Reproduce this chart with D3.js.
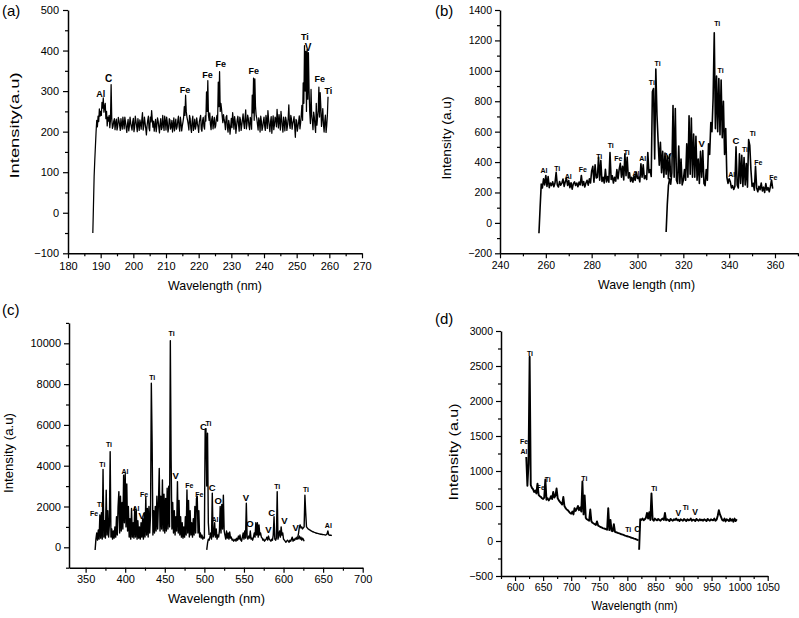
<!DOCTYPE html>
<html><head><meta charset="utf-8">
<script src="https://cdn.jsdelivr.net/npm/d3@7"></script>
<style>
body{margin:0;background:#fff;}
svg{display:block;font-family:"Liberation Sans",Arial,sans-serif;}
</style></head><body>
<svg id="chart" width="799" height="618"></svg>
<script>
// ---------- Panel (a) ----------
const aStart = 187.6, aStep = 0.2;
const aIntensity = [-50, 20, 90, 130, 165, 200, 228, 212, 238, 225, 256, 238, 250, 240, 272, 258, 283, 248, 262, 270,
 232, 250, 214, 236, 226, 240, 210, 228, 316, 232, 208, 214, 226, 232, 205, 222, 231, 204, 212, 235,
 228, 216, 203, 232, 219, 206, 236, 222, 207, 236, 224, 210, 198, 218, 230, 202, 214, 236, 221, 212,
 204, 224, 233, 200, 211, 238, 226, 214, 200, 232, 218, 203, 229, 221, 206, 230, 247, 204, 213, 236,
 222, 208, 192, 214, 228, 238, 209, 202, 236, 224, 252, 230, 211, 226, 201, 217, 230, 200, 215, 234,
 226, 211, 197, 220, 232, 205, 210, 240, 219, 203, 238, 226, 204, 236, 223, 199, 208, 232, 229, 206,
 213, 228, 199, 216, 234, 202, 218, 231, 206, 212, 227, 238, 212, 201, 236, 222, 202, 214, 224, 236,
 262, 240, 290, 250, 236, 228, 218, 204, 240, 232, 208, 198, 226, 238, 203, 215, 231, 206, 215, 234,
 221, 212, 198, 224, 233, 240, 206, 201, 228, 235, 213, 206, 239, 226, 298, 250, 326, 240, 228, 246,
 218, 205, 231, 238, 207, 222, 235, 209, 214, 231, 240, 226, 322, 262, 348, 250, 270, 256, 238, 222,
 242, 230, 221, 205, 236, 240, 210, 199, 228, 217, 194, 212, 233, 210, 247, 228, 206, 237, 225, 196,
 213, 229, 238, 218, 201, 236, 229, 203, 216, 229, 244, 221, 208, 234, 254, 207, 219, 241, 232, 214,
 205, 235, 227, 206, 290, 246, 332, 228, 330, 262, 240, 232, 218, 204, 234, 226, 199, 238, 226, 203,
 211, 225, 236, 214, 203, 240, 230, 208, 252, 231, 214, 200, 224, 237, 196, 220, 239, 205, 217, 236,
 231, 212, 255, 228, 209, 242, 226, 204, 250, 232, 212, 199, 236, 222, 202, 236, 228, 203, 215, 233,
 266, 218, 208, 240, 232, 206, 219, 227, 237, 212, 186, 230, 226, 201, 213, 224, 239, 207, 221, 240,
 265, 228, 320, 270, 412, 300, 398, 250, 402, 280, 395, 300, 248, 220, 304, 240, 226, 205, 248, 236,
 214, 198, 270, 216, 235, 252, 310, 236, 296, 262, 213, 232, 257, 218, 199, 226, 241, 198, 215, 240,
 286];
const aLabels = [[190.0,293,"Al"],[192.4,332,"C"],[215.8,304,"Fe"],[222.7,341,"Fe"],[226.8,367,"Fe"],
 [236.9,349,"Fe"],[252.5,435,"Ti"],[253.5,407,"V"],[257.1,331,"Fe"],[259.7,300,"Ti"]];

// ---------- Panel (b) ----------
const bStart1 = 257.0, bStart2 = 312.5, bStep = 0.5;
const bIntensity1 = [-68, 100, 255, 230, 290, 250, 312, 240, 305, 232,
 262, 245, 270, 238, 262, 332, 250, 236, 272, 248,
 262, 288, 240, 272, 294, 246, 278, 232, 264, 222,
 258, 270, 246, 262, 238, 268, 250, 312, 246, 272,
 236, 262, 280, 248, 290, 262, 342, 372, 268, 382,
 295, 300, 432, 280, 410, 272, 300, 262, 352, 270,
 305, 268, 462, 285, 310, 262, 300, 275, 350, 290,
 352, 392, 300, 372, 282, 455, 310, 432, 295, 330,
 272, 300, 268, 310, 280, 335, 292, 302, 270, 388,
 300, 382, 290, 310, 285, 462, 330, 350, 305, 862,
 884, 420, 1012, 710, 540, 380, 530, 330, 470, 300,
 460, 320, 440, 290, 450, 300];
const bIntensity2 = [-60, 120, 245, 290, 255, 330, 772, 300, 752, 280,
 260, 505, 260, 420, 250, 280, 350, 280, 520, 300,
 705, 320, 690, 300, 585, 300, 570, 280, 420, 260,
 470, 300, 475, 260, 245, 350, 280, 520, 450, 660,
 600, 820, 1250, 620, 965, 600, 950, 580, 940, 560,
 800, 450, 620, 300, 260, 290, 270, 230, 245, 220,
 240, 500, 250, 230, 455, 260, 445, 240, 430, 250,
 390, 235, 548, 510, 350, 240, 260, 215, 372, 230,
 205, 240, 218, 262, 210, 235, 200, 258, 215, 232,
 205, 240, 282, 225];
const bLabels = [[259.2,343,"Al"],[265,359,"Ti"],[269.8,308,"Al"],[276.1,348,"Fe"],[283.3,435,"Ti"],
 [288.3,506,"Ti"],[291.6,425,"Fe"],[295.3,462,"Ti"],[299.3,326,"Al"],[302.3,425,"Al"],[306.3,922,"Ti"],
 [308.8,1045,"Ti"],[313.5,440,"V"],[328,523,"V"],[334.8,1308,"Ti"],[336.3,1001,"Ti"],[341.1,321,"Al"],
 [343,540,"C"],[346.9,484,"Ti"],[350.3,585,"Ti"],[352.7,396,"Fe"],[359.3,300,"Fe"]];

// ---------- Panel (c) ----------
const cStart1 = 362, cStart2 = 503, cStart3 = 618, cStep = 1;
const cIntensity1 = [-130, 400, 700, 350, 850, 400, 1580, 450, 1700, 400,
 3820, 500, 1300, 450, 2800, 600, 1800, 500, 1100, 4690,
 500, 900, 400, 800, 450, 1000, 500, 1500, 600, 2000,
 2730, 700, 2500, 800, 2200, 900, 3540, 1200, 3600, 1000,
 3100, 800, 2000, 500, 1400, 400, 1900, 500, 1200, 450,
 1950, 500, 1800, 400, 1300, 450, 1000, 400, 1200, 500,
 1400, 400, 1700, 500, 2450, 600, 1900, 500, 2000, 700,
 1600, 8040, 5180, 600, 1800, 700, 2000, 800, 2500, 900,
 2200, 3870, 800, 2500, 900, 3300, 800, 2600, 700, 2400,
 800, 2900, 900, 3000, 1000, 10130, 4280, 900, 2200, 700,
 1800, 600, 1500, 800, 3220, 700, 2300, 600, 1500, 500,
 1200, 450, 1000, 500, 1500, 600, 2810, 700, 2300, 500,
 1800, 600, 1200, 500, 1400, 600, 2000, 700, 2400, 2500,
 700, 1800, 500, 700, 450, 600, 400, 500, 450, 5750,
 5800, 3000, 5590, 1200, 600];
const cIntensity2 = [-130, 200, 400, 350, 500, 700, 400, 2650, 500, 600,
 1200, 500, 900, 400, 600, 500, 800, 2000, 700, 2100,
 900, 2550, 800, 600, 400, 800, 450, 700, 400, 750,
 450, 500, 350, 400, 300, 350, 400, 300, 450, 350,
 550, 400, 600, 350, 300, 500, 700, 400, 800, 450,
 2160, 500, 400, 550, 450, 800, 400, 450, 350, 500,
 700, 500, 1200, 600, 1200, 500, 1100, 600, 700, 500,
 450, 350, 400, 300, 350, 400, 500, 350, 550, 400,
 350, 300, 400, 350, 600, 1500, 400, 350, 450, 2730,
 400, 600, 800, 500, 1000, 600, 700, 400, 350, 300,
 250, 300, 350, 300, 250, 350, 300, 400, 500, 300,
 400, 350, 450, 400, 500, 400, 450, 550, 400, 500,
 350, 450, 400, 300];
const cIntensity3 = [500, 700, 1000, 1100, 950, 1000, 900, 950, 1000, 2560,
 1700, 1000, 950, 900, 880, 850, 830, 800, 780, 760,
 750, 730, 720, 700, 690, 680, 670, 660, 650, 640,
 640, 630, 620, 620, 610, 600, 620, 650, 800, 620,
 590, 600, 580, 600];
const cLabels = [[360.6,1667,"Fe"],[368.2,2073,"Ti"],[371.1,4069,"Ti"],[379.5,5015,"Ti"],[399.7,3706,"Al"],
 [413.6,1912,"Al"],[420.8,1534,"V"],[423.7,2598,"Fe"],[434.2,8333,"Ti"],[458.7,10490,"Ti"],[463.8,3495,"V"],
 [481,3005,"Fe"],[493.6,2598,"Fe"],[498.8,5900,"C"],[505.2,6050,"Ti"],[510,2941,"C"],[513.4,1373,"Al"],
 [517.6,2270,"O"],[552.6,2451,"V"],[557.6,1142,"O"],[580.8,848,"V"],[585,1696,"C"],[592.1,2971,"Ti"],
 [601,1304,"V"],[615.4,961,"V"],[628.4,2809,"Ti"],[656.6,1078,"Al"]];

// ---------- Panel (d) ----------
const dStart1 = 620, dStart2 = 821, dStep = 2;
const dIntensity1 = [1200, 790, 1100, 2633, 800, 760, 740, 700, 720, 680,
 820, 660, 640, 630, 610, 600, 620, 880, 590, 610,
 580, 600, 640, 600, 700, 620, 650, 750, 610, 580,
 560, 540, 520, 630, 500, 470, 450, 440, 420, 400,
 390, 420, 380, 470, 430, 460, 500, 440, 480, 420,
 850, 380, 650, 330, 310, 300, 290, 450, 280, 260,
 250, 240, 230, 280, 220, 210, 200, 195, 185, 180,
 175, 170, 160, 470, 155, 300, 145, 140, 240, 130,
 125, 120, 112, 108, 100, 95, 90, 85, 78, 72,
 68, 62, 58, 50, 45, 40, 34, 30, 22, 15,
 10];
const dIntensity2 = [-125, 310, 300, 320, 295, 310, 330, 400, 320, 410,
 300, 681, 310, 290, 320, 305, 295, 315, 300, 290,
 310, 320, 300, 400, 295, 310, 300, 285, 315, 300,
 290, 310, 300, 320, 295, 305, 285, 310, 300, 290,
 315, 300, 285, 310, 295, 300, 320, 290, 305, 300,
 285, 315, 300, 290, 310, 295, 305, 290, 310, 300,
 285, 315, 300, 290, 310, 300, 295, 320, 290, 305,
 360, 440, 380, 340, 300, 290, 320, 280, 310, 300,
 285, 320, 290, 310, 275, 320, 285, 310];
const dLabels = [[626.6,2671,"Ti"],[616,1419,"Fe"],[616,1276,"Al"],[658.2,881,"Ti"],[645.7,762,"Fe"],
 [723.4,895,"Ti"],[848,743,"Ti"],[890.8,405,"V"],[904,481,"Ti"],[920.5,419,"V"],[801.7,157,"Ti"],[817.7,167,"C"]];

// ---------- Tick definitions ----------
const aXTicks = [180,190,200,210,220,230,240,250,260,270];
const aYTicks = [-100,0,100,200,300,400,500];
const bXTicks = [240,260,280,300,320,340,360];
const bYTicks = [-200,0,200,400,600,800,1000,1200,1400];
const cXTicks = [350,400,450,500,550,600,650,700];
const cYTicks = [0,2000,4000,6000,8000,10000];
const dXTicks = [600,650,700,750,800,850,900,950,1000,1050];
const dYTicks = [-500,0,500,1000,1500,2000,2500,3000];

const svg = d3.select("#chart");

function mkSeries(start, step, vals){ return vals.map((v,i)=>[start+step*i, v]); }

function drawPanel(p){
  const g = svg.append("g");
  const x = d3.scaleLinear().domain(p.xDomain).range(p.xRange);
  const y = d3.scaleLinear().domain(p.yDomain).range(p.yRange);
  const line = d3.line().x(d=>x(d[0])).y(d=>y(d[1]));
  p.series.forEach(s=>{
    g.append("path").attr("d", line(s)).attr("fill","none").attr("stroke","#000")
      .attr("stroke-width",p.lw).attr("stroke-linejoin","round");
  });
  // minor ticks
  const xMin = [], yMin = [];
  const xs = p.xTicks[1]-p.xTicks[0], ys = p.yTicks[1]-p.yTicks[0];
  for(let v=p.xTicks[0]-xs/2; v<=p.xDomain[1]+1e-9; v+=xs){ if(v>=p.xDomain[0]-1e-9) xMin.push(v); }
  for(let v=p.yTicks[0]-ys/2; v<=p.yDomain[1]+1e-9; v+=ys){ if(v>=p.yDomain[0]-1e-9) yMin.push(v); }
  const xb = p.yRange[0], yl = p.xRange[0];
  const gxm = g.append("g").attr("transform",`translate(0,${xb})`)
    .call(d3.axisBottom(x).tickValues(xMin).tickSize(3).tickFormat(""));
  gxm.select(".domain").remove();
  const gym = g.append("g").attr("transform",`translate(${yl},0)`)
    .call(d3.axisLeft(y).tickValues(yMin).tickSize(3).tickFormat(""));
  gym.select(".domain").remove();
  const gx = g.append("g").attr("transform",`translate(0,${xb})`)
    .call(d3.axisBottom(x).tickValues(p.xTicks).tickSize(5).tickSizeOuter(0).tickPadding(p.pad)
      .tickFormat(d3.format("d")));
  const gy = g.append("g").attr("transform",`translate(${yl},0)`)
    .call(d3.axisLeft(y).tickValues(p.yTicks).tickSize(5).tickSizeOuter(0).tickPadding(p.pad)
      .tickFormat(d3.format("d")));
  [gx,gy,gxm,gym].forEach(a=>{
    a.selectAll("line").attr("stroke","#000").attr("stroke-width",1.2);
    a.selectAll("text").attr("font-size",p.tickFont).attr("fill","#000")
      .attr("font-family",'"Liberation Sans",Arial,sans-serif');
  });
  [gx,gy].forEach(a=>a.select(".domain").attr("stroke","#000").attr("stroke-width",1.5));
  // annotations
  p.labels.forEach(l=>{
    g.append("text").attr("x",x(l[0])).attr("y",y(l[1])).attr("dy","0.35em")
      .attr("text-anchor","middle").attr("font-size", l[2].length===1 ? p.annBig : p.annSmall)
      .attr("font-weight", "bold").attr("fill","#000").text(l[2]);
  });
  // titles
  g.append("text").attr("x",p.xt[0]).attr("y",p.xt[1]).attr("text-anchor","middle")
    .attr("font-size",p.titleFont).attr("textLength",p.xt[2]).attr("lengthAdjust","spacingAndGlyphs")
    .text(p.xTitle);
  g.append("text").attr("transform",`translate(${p.yt[0]},${p.yt[1]}) rotate(-90)`).attr("text-anchor","middle")
    .attr("font-size",p.titleFont).attr("textLength",p.yt[2]).attr("lengthAdjust","spacingAndGlyphs")
    .text(p.yTitle);
  g.append("text").attr("x",p.tag[0]).attr("y",p.tag[1]).attr("font-size",15).text(p.tagText);
}

drawPanel({
  xDomain:[180,270], xRange:[68,362], yDomain:[-100,500], yRange:[253.3,10],
  xTicks:aXTicks, yTicks:aYTicks, pad:4, tickFont:11, titleFont:13.5, lw:1.25,
  series:[mkSeries(aStart,aStep,aIntensity)], labels:aLabels, annSmall:9, annBig:10,
  xTitle:"Wavelength (nm)", xt:[215,290,94], yTitle:"Intensity(a.u)", yt:[19,125.5,106],
  tag:[2,16], tagText:"(a)"
});
drawPanel({
  xDomain:[240,370], xRange:[500,797.9], yDomain:[-200,1400], yRange:[253.3,10],
  xTicks:bXTicks, yTicks:bYTicks, pad:3, tickFont:10.5, titleFont:13, lw:1.6,
  series:[mkSeries(bStart1,bStep,bIntensity1), mkSeries(bStart2,bStep,bIntensity2)], labels:bLabels, annSmall:7, annBig:9.5,
  xTitle:"Wave length (nm)", xt:[646.5,289,97], yTitle:"Intensity (a.u)", yt:[451,138,83],
  tag:[435,16], tagText:"(b)"
});
drawPanel({
  xDomain:[329,700], xRange:[69,362.7], yDomain:[-1000,11000], yRange:[567.7,322.9],
  xTicks:cXTicks, yTicks:cYTicks, pad:3, tickFont:11, titleFont:13, lw:1.4,
  series:[mkSeries(cStart1,cStep,cIntensity1), mkSeries(cStart2,cStep,cIntensity2), mkSeries(cStart3,cStep,cIntensity3)],
  labels:cLabels, annSmall:7, annBig:9.5,
  xTitle:"Wavelength (nm)", xt:[216.5,603,97], yTitle:"Intensity (a.u)", yt:[13,453,80],
  tag:[2,315], tagText:"(c)"
});
drawPanel({
  xDomain:[575,1050], xRange:[501,767.7], yDomain:[-500,3000], yRange:[576,331],
  xTicks:dXTicks, yTicks:dYTicks, pad:3, tickFont:10.5, titleFont:13, lw:1.9,
  series:[mkSeries(dStart1,dStep,dIntensity1), mkSeries(dStart2,dStep,dIntensity2)], labels:dLabels, annSmall:7, annBig:8.5,
  xTitle:"Wavelength (nm)", xt:[634.5,610,86], yTitle:"Intensity (a.u)", yt:[458,452,97],
  tag:[435,324], tagText:"(d)"
});
</script>
</body></html>
